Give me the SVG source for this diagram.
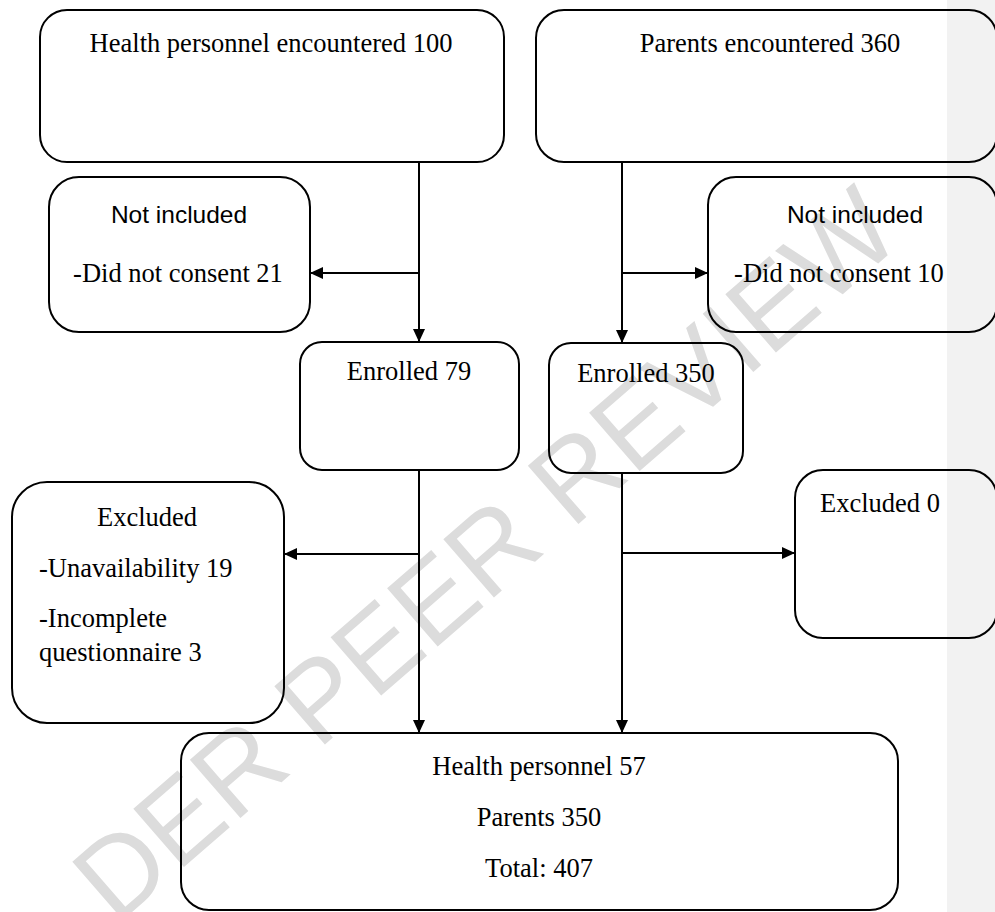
<svg xmlns="http://www.w3.org/2000/svg" width="995" height="912" viewBox="0 0 995 912">
<style>
.box{fill:none;stroke:#000;stroke-width:2}
.ln{fill:none;stroke:#000;stroke-width:2}
.t{font-family:"Liberation Serif","Times New Roman",serif;font-size:26.5px;fill:#000}
.s{font-family:"Liberation Sans",Arial,sans-serif;font-size:24.5px;fill:#000}
.c{text-anchor:middle}
.wm{font-family:"Liberation Sans",Arial,sans-serif;font-size:112px;fill:#dcdcdc}
</style>
<defs>
<marker id="ah" markerWidth="13" markerHeight="12" refX="13" refY="6" orient="auto" markerUnits="userSpaceOnUse">
<path d="M0,0 L13,6 L0,12 z" fill="#000"/>
</marker>
</defs>
<rect x="0" y="0" width="995" height="912" fill="#fff"/>
<rect x="947" y="0" width="48" height="912" fill="#f2f2f2"/>
<text class="wm" transform="translate(116,926) rotate(-41)">DER PEER REVIEW</text>
<g id="connectors">
<line class="ln" x1="419" y1="162" x2="419" y2="342" marker-end="url(#ah)"/>
<line class="ln" x1="419" y1="273" x2="310" y2="273" marker-end="url(#ah)"/>
<line class="ln" x1="622" y1="162" x2="622" y2="343" marker-end="url(#ah)"/>
<line class="ln" x1="622" y1="273" x2="708" y2="273" marker-end="url(#ah)"/>
<line class="ln" x1="419" y1="470" x2="419" y2="733" marker-end="url(#ah)"/>
<line class="ln" x1="419" y1="554" x2="284" y2="554" marker-end="url(#ah)"/>
<line class="ln" x1="622" y1="473" x2="622" y2="733" marker-end="url(#ah)"/>
<line class="ln" x1="622" y1="553" x2="795" y2="553" marker-end="url(#ah)"/>
</g>
<g id="hp-encountered">
<rect class="box" x="40" y="10" width="464" height="152" rx="27"/>
<text class="t c" x="271" y="52">Health personnel encountered 100</text>
</g>
<g id="parents-encountered">
<rect class="box" x="536" y="10" width="461" height="152" rx="28"/>
<text class="t c" x="770" y="52">Parents encountered 360</text>
</g>
<g id="hp-not-included">
<rect class="box" x="49" y="177" width="261" height="155" rx="30"/>
<text class="s c" x="179" y="223">Not included</text>
<text class="t c" x="178" y="282">-Did not consent 21</text>
</g>
<g id="parents-not-included">
<rect class="box" x="708" y="177" width="289" height="155" rx="28"/>
<text class="s c" x="855" y="223">Not included</text>
<text class="t c" x="839" y="282">-Did not consent 10</text>
</g>
<g id="hp-enrolled">
<rect class="box" x="300" y="342" width="219" height="128" rx="22"/>
<text class="t c" x="409" y="380">Enrolled 79</text>
</g>
<g id="parents-enrolled">
<rect class="box" x="549" y="343" width="194" height="130" rx="22"/>
<text class="t c" x="646" y="382">Enrolled 350</text>
</g>
<g id="hp-excluded">
<rect class="box" x="12" y="482" width="272" height="241" rx="35"/>
<text class="t c" x="147" y="526">Excluded</text>
<text class="t" x="39" y="577">-Unavailability 19</text>
<text class="t" x="39" y="627">-Incomplete</text>
<text class="t" x="39" y="661">questionnaire 3</text>
</g>
<g id="parents-excluded">
<rect class="box" x="795" y="470" width="202" height="168" rx="28"/>
<text class="t" x="820" y="512">Excluded 0</text>
</g>
<g id="total">
<rect class="box" x="181" y="733" width="717" height="177" rx="28"/>
<text class="t c" x="539" y="775">Health personnel 57</text>
<text class="t c" x="539" y="826">Parents 350</text>
<text class="t c" x="539" y="877">Total: 407</text>
</g>
</svg>
